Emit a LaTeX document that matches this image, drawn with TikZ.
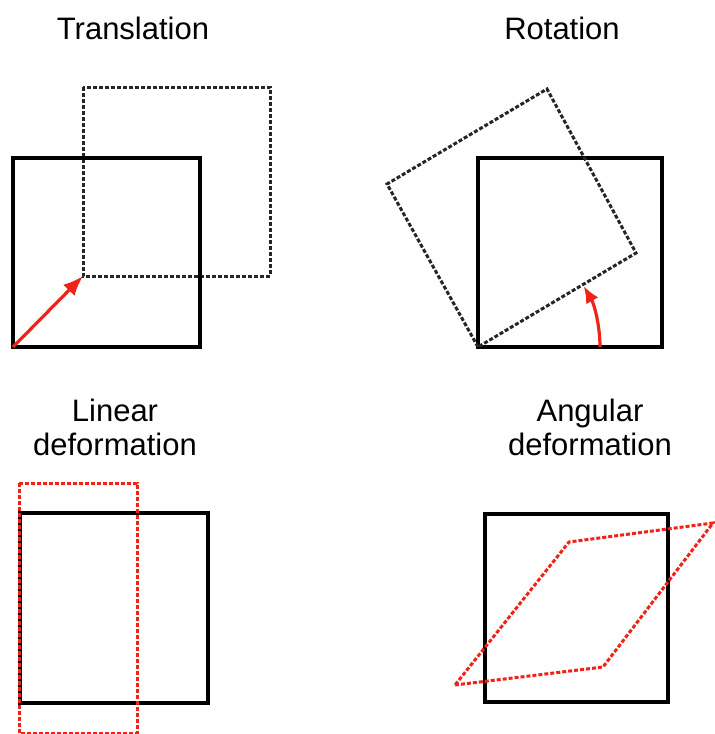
\documentclass[tikz,border=0pt]{standalone}
\usepackage{fontspec}
\setmainfont{Liberation Sans}
\usetikzlibrary{arrows.meta}
\definecolor{myred}{RGB}{240,35,25}
\begin{document}
\begin{tikzpicture}[x=1pt,y=-1pt,
  solidsq/.style={draw=black,line width=3.2pt,line join=miter},
  dashsq/.style={draw=black!85,line width=3pt,dash pattern=on 4pt off 2pt},
  reddash/.style={draw=myred,line width=3pt,dash pattern=on 4pt off 2pt},
  redarrow/.style={draw=myred,line width=3.2pt,-{Latex[length=20pt,width=16pt]}},
  label/.style={font=\fontsize{31}{34}\selectfont,align=center,inner sep=0pt}]
\useasboundingbox (0,0) rectangle (715,734);
% titles
\node[label] (t1) at (133,28) {Translation};
\node[label] (t2) at (562,28) {Rotation};
\node[label] (t3) at (115,427) {Linear\\deformation};
\node[label] (t4) at (590,427) {Angular\\deformation};
% Translation
\draw[dashsq] (83,87) rectangle (270,276);
\draw[solidsq] (13,158) rectangle (200,347);
\coordinate (a0) at (13,347);
\coordinate (a1) at (83,276);
\draw[redarrow] (a0) -- (a1);
% Rotation
\draw[solidsq] (478,158) rectangle (662,347);
\draw[dashsq] (478,347) -- (387,184) -- (547,89) -- (636,253) -- cycle;
\coordinate (rc) at (478,347);
\draw[redarrow,-{Latex[length=17pt,width=14pt]}] ([xshift=122pt]rc) arc[start angle=0,end angle=30,radius=122pt];
% Linear deformation
\draw[solidsq] (20,513) rectangle (208,703);
\draw[reddash] (19,483) rectangle (137,733);
% Angular deformation
\draw[solidsq] (485,514) rectangle (668,702);
\draw[reddash] (455,685) -- (603,667) -- (713,523) -- (569,542) -- cycle;
\end{tikzpicture}
\end{document}
